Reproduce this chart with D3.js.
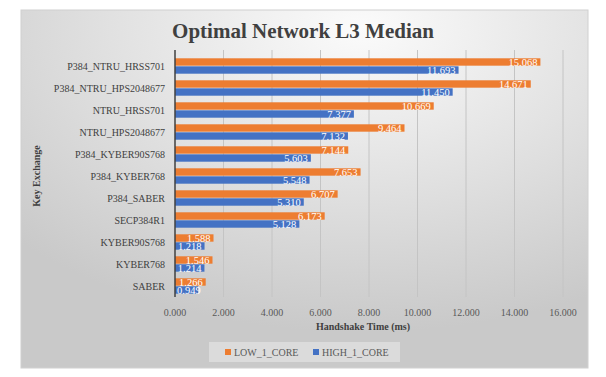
<!DOCTYPE html>
<html>
<head>
<meta charset="utf-8">
<script src="https://cdn.jsdelivr.net/npm/d3@7"></script>
<style>
  body { margin: 0; background: #fff; }
  text { font-family: "Liberation Serif", "DejaVu Serif", serif; }
</style>
</head>
<body>
<div id="chart"></div>
<script>
const categorias = ["P384_NTRU_HRSS701","P384_NTRU_HPS2048677","NTRU_HRSS701","NTRU_HPS2048677",
    "P384_KYBER90S768","P384_KYBER768","P384_SABER","SECP384R1","KYBER90S768","KYBER768","SABER"];
const lowCore = [15.068, 14.671, 10.669, 9.464, 7.144, 7.653, 6.707, 6.173, 1.588, 1.546, 1.266];
const highCore = [11.693, 11.450, 7.377, 7.132, 5.603, 5.548, 5.310, 5.128, 1.218, 1.214, 0.949];
const series = ["LOW_1_CORE", "HIGH_1_CORE"];
const xTicks = [0, 2, 4, 6, 8, 10, 12, 14, 16];

const width = 606, height = 377;
const mLeft = 175, mRight = 563, mTop = 55, mBottom = 297;

const svg = d3.select("#chart").append("svg")
    .attr("width", width)
    .attr("height", height);

const defs = svg.append("defs");
const grad = defs.append("radialGradient")
    .attr("id", "bg")
    .attr("cx", "60%").attr("cy", "5%").attr("r", "85%");
grad.append("stop").attr("offset", "0%").attr("stop-color", "#fbfbfb");
grad.append("stop").attr("offset", "100%").attr("stop-color", "#c9c9c9");

svg.append("rect")
    .attr("x", 21).attr("y", 10)
    .attr("width", 567).attr("height", 358)
    .attr("fill", "url(#bg)")
    .attr("stroke", "#d0d0d0");

const x = d3.scaleLinear().domain([0, 16]).range([mLeft, mRight]);
const y = d3.scaleBand().domain(categorias).range([mTop, mBottom]).paddingInner(0.3).paddingOuter(0.15);
const y1 = d3.scaleBand().domain(series).range([0, y.bandwidth()]).paddingInner(0.08);
const color = d3.scaleOrdinal().domain(series).range(["#ED7D31", "#4472C4"]);

// gridlines
svg.append("g")
    .selectAll("line")
    .data(xTicks.slice(1))
    .enter()
    .append("line")
    .attr("x1", d => x(d)).attr("x2", d => x(d))
    .attr("y1", mTop - 5).attr("y2", mBottom)
    .attr("stroke", "#c4c4c4")
    .attr("stroke-width", 1);

const datos = categorias.map((c, i) => ({cat: c, vals: [
    {s: series[0], v: lowCore[i]},
    {s: series[1], v: highCore[i]}
]}));

const grupos = svg.append("g").selectAll("g")
    .data(datos)
    .enter()
    .append("g")
    .attr("transform", d => `translate(0,${y(d.cat)})`);

grupos.selectAll("rect")
    .data(d => d.vals)
    .enter()
    .append("rect")
    .attr("x", x(0))
    .attr("y", d => y1(d.s))
    .attr("width", d => x(d.v) - x(0))
    .attr("height", y1.bandwidth())
    .attr("fill", d => color(d.s));

// value labels: inside end, but never start before the bar
grupos.selectAll("text")
    .data(d => d.vals)
    .enter()
    .append("text")
    .attr("y", d => y1(d.s) + y1.bandwidth() / 2)
    .attr("dy", "0.35em")
    .attr("text-anchor", "end")
    .attr("font-size", "10.5px")
    .attr("fill", "#fff")
    .text(d => d.v.toFixed(3))
    .attr("x", function(d) {
        const w = this.getComputedTextLength();
        return Math.max(x(d.v) - 3, x(0) + 2 + w);
    });

// y axis line
svg.append("line")
    .attr("x1", x(0)).attr("x2", x(0))
    .attr("y1", mTop - 5).attr("y2", mBottom)
    .attr("stroke", "#404040")
    .attr("stroke-width", 1.5);

// category labels
svg.append("g").selectAll("text")
    .data(categorias)
    .enter()
    .append("text")
    .attr("x", mLeft - 10)
    .attr("y", d => y(d) + y.bandwidth() / 2)
    .attr("dy", "0.35em")
    .attr("text-anchor", "end")
    .attr("font-size", "10px")
    .attr("fill", "#404040")
    .text(d => d);

// x tick labels
svg.append("g").selectAll("text")
    .data(xTicks)
    .enter()
    .append("text")
    .attr("x", d => x(d))
    .attr("y", 316)
    .attr("text-anchor", "middle")
    .attr("font-size", "10px")
    .attr("fill", "#595959")
    .text(d => d.toFixed(3));

svg.append("text")
    .attr("x", width / 2)
    .attr("y", 38)
    .attr("text-anchor", "middle")
    .attr("font-size", "21px")
    .attr("font-weight", "bold")
    .attr("fill", "#404040")
    .text("Optimal Network L3 Median");

svg.append("text")
    .attr("x", 363)
    .attr("y", 330)
    .attr("text-anchor", "middle")
    .attr("font-size", "10px")
    .attr("font-weight", "bold")
    .attr("fill", "#404040")
    .text("Handshake  Time (ms)");

svg.append("text")
    .attr("transform", `translate(40,${(mTop + mBottom) / 2}) rotate(-90)`)
    .attr("text-anchor", "middle")
    .attr("font-size", "10px")
    .attr("font-weight", "bold")
    .attr("fill", "#404040")
    .text("Key Exchange");

// legend
svg.append("rect")
    .attr("x", 209).attr("y", 342)
    .attr("width", 191).attr("height", 20)
    .attr("fill", "#e2e2e2")
    .attr("opacity", 0.7);

const leg = svg.append("g").selectAll("g")
    .data(series)
    .enter()
    .append("g")
    .attr("transform", (d, i) => `translate(${225 + i * 88},352)`);
leg.append("rect")
    .attr("x", 0).attr("y", -3)
    .attr("width", 6).attr("height", 6)
    .attr("fill", d => color(d));
leg.append("text")
    .attr("x", 9)
    .attr("dy", "0.35em")
    .attr("font-size", "10px")
    .attr("fill", "#595959")
    .text(d => d);
</script>
</body>
</html>
